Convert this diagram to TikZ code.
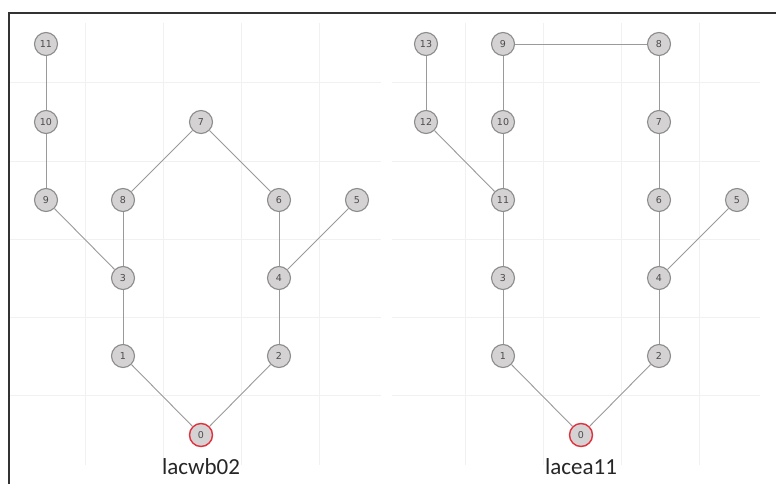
\documentclass[tikz,border=0pt]{standalone}
\usepackage{fontspec}
\usepackage{xcolor}
\usetikzlibrary{positioning}
\newfontfamily\captionfont{Carlito}
\newfontfamily\numfont{DejaVu Sans}
\definecolor{nodefill}{HTML}{D4D2D2}
\definecolor{nodeline}{HTML}{8C8C8C}
\definecolor{edgeline}{HTML}{9A9A9A}
\definecolor{gridline}{HTML}{F1F1F1}
\definecolor{rootline}{HTML}{E3303D}
\definecolor{frameline}{HTML}{333333}

\begin{document}
\begin{tikzpicture}[x=1pt,y=-1pt,
  v/.style={circle,draw=nodeline,line width=1.1pt,fill=nodefill,minimum size=23pt,inner sep=0pt,font=\numfont\fontsize{9.5}{9.5}\selectfont,text=black!70},
  root/.style={v,draw=rootline,line width=1.4pt},
  e/.style={draw=edgeline,line width=0.9pt},
  g/.style={draw=gridline,line width=1pt},
  treename/.style={font=\captionfont\fontsize{23}{23}\selectfont,text=black!85}]
\useasboundingbox (0,0) rectangle (776,484);
\fill[white] (0,0) rectangle (776,484);
% grid behind both trees
\foreach \y in {83,161,239,317,395} {
  \draw[g] (10,\y) -- (381,\y);
  \draw[g] (392,\y) -- (760,\y);
}
\foreach \x in {85,163,241,319,465,543,621,699}
  \draw[g] (\x,23) -- (\x,465);
% frame
\draw[frameline,line width=1.4pt] (9,484) -- (9,13) -- (776,13);

% left tree
\node[root] (l0) at (201,435) {0};
\node[v] (l1) at (123,356) {1};
\node[v] (l2) at (279,356) {2};
\node[v] (l3) at (123,278) {3};
\node[v] (l4) at (279,278) {4};
\node[v] (l5) at (357,200) {5};
\node[v] (l6) at (279,200) {6};
\node[v] (l7) at (201,122) {7};
\node[v] (l8) at (123,200) {8};
\node[v] (l9) at (46,200) {9};
\node[v] (l10) at (46,122) {10};
\node[v] (l11) at (46,44) {11};
\draw[e] (l11) -- (l10);
\draw[e] (l10) -- (l9);
\draw[e] (l9) -- (l3);
\draw[e] (l8) -- (l3);
\draw[e] (l8) -- (l7);
\draw[e] (l7) -- (l6);
\draw[e] (l6) -- (l4);
\draw[e] (l5) -- (l4);
\draw[e] (l3) -- (l1);
\draw[e] (l4) -- (l2);
\draw[e] (l1) -- (l0);
\draw[e] (l2) -- (l0);
\node[treename] (lname) at (201,467) {lacwb02};

% right tree
\node[root] (r0) at (581,435) {0};
\node[v] (r1) at (503,356) {1};
\node[v] (r2) at (659,356) {2};
\node[v] (r3) at (503,278) {3};
\node[v] (r4) at (659,278) {4};
\node[v] (r5) at (737,200) {5};
\node[v] (r6) at (659,200) {6};
\node[v] (r7) at (659,122) {7};
\node[v] (r8) at (659,44) {8};
\node[v] (r9) at (503,44) {9};
\node[v] (r10) at (503,122) {10};
\node[v] (r11) at (503,200) {11};
\node[v] (r12) at (426,122) {12};
\node[v] (r13) at (426,44) {13};
\draw[e] (r13) -- (r12);
\draw[e] (r12) -- (r11);
\draw[e] (r9) -- (r10);
\draw[e] (r9) -- (r8);
\draw[e] (r10) -- (r11);
\draw[e] (r8) -- (r7);
\draw[e] (r7) -- (r6);
\draw[e] (r6) -- (r4);
\draw[e] (r5) -- (r4);
\draw[e] (r11) -- (r3);
\draw[e] (r3) -- (r1);
\draw[e] (r4) -- (r2);
\draw[e] (r1) -- (r0);
\draw[e] (r2) -- (r0);
\node[treename] (rname) at (581,467) {lacea11};
\end{tikzpicture}
\end{document}
